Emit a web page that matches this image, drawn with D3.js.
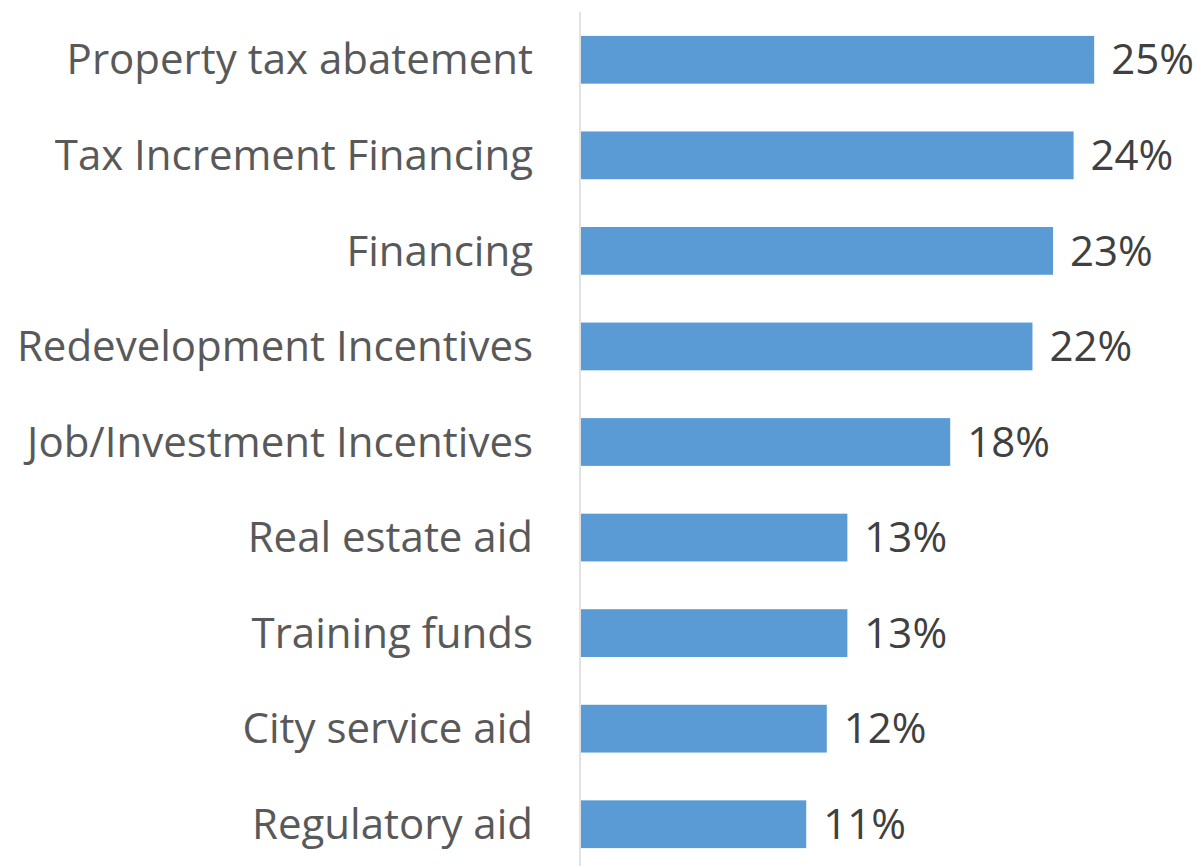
<!DOCTYPE html>
<html><head><meta charset="utf-8">
<script src="https://cdn.jsdelivr.net/npm/d3@7"></script>
<style>body{margin:0;background:#fff}svg{display:block}</style>
</head><body>
<svg id="c" width="1197" height="866"></svg>
<script>
const categories = ["Property tax abatement","Tax Increment Financing","Financing","Redevelopment Incentives","Job/Investment Incentives","Real estate aid","Training funds","City service aid","Regulatory aid"];
const values = [0.25,0.24,0.23,0.22,0.18,0.13,0.13,0.12,0.11];

const svg = d3.select("#c");
const x = d3.scaleLinear().domain([0,0.30]).range([580,1197]);
const y = d3.scaleBand().domain(categories).range([12,872]).paddingInner(0.5).paddingOuter(0.25);
const fmt = d3.format(".0%");
const font = "'Open Sans', Lato, sans-serif";

// fit font size so the first label spans the same width as the reference
const probe = svg.append("text").attr("font-family",font).attr("font-size",40).text(categories[0]);
const w40 = probe.node().getComputedTextLength();
probe.remove();
const fs = Math.min(42, 40*471/w40);

svg.append("line").attr("x1",x(0)).attr("x2",x(0)).attr("y1",12).attr("y2",866)
  .attr("stroke","#d9d9d9").attr("stroke-width",1.5);

svg.selectAll("rect.bar").data(values).join("rect").attr("class","bar")
  .attr("x",x(0)+1).attr("y",(d,i)=>y(categories[i]))
  .attr("width",d=>x(d)-x(0)-1).attr("height",y.bandwidth())
  .attr("fill","#5b9bd5");

svg.selectAll("text.cat").data(categories).join("text").attr("class","cat")
  .attr("x",533).attr("y",d=>y(d)+y.bandwidth()/2).attr("dy","0.35em")
  .attr("text-anchor","end").attr("font-family",font).attr("font-size",fs)
  .attr("fill","#595959").text(d=>d);

svg.selectAll("text.val").data(values).join("text").attr("class","val")
  .attr("x",d=>x(d)+17).attr("y",(d,i)=>y(categories[i])+y.bandwidth()/2).attr("dy","0.35em")
  .attr("font-family",font).attr("font-size",fs)
  .attr("fill","#404040").text(d=>fmt(d));
</script>
</body></html>
